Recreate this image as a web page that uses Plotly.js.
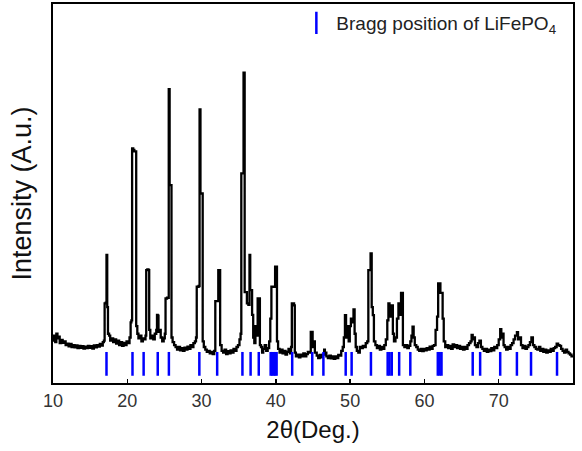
<!DOCTYPE html>
<html>
<head>
<meta charset="utf-8">
<script src="https://cdn.plot.ly/plotly-3.0.1.min.js"></script>
<style>html,body{margin:0;padding:0;background:#fff;}#chart{width:582px;height:451px;}</style>
</head>
<body>
<div id="chart"></div>
<script>
// 2-theta (degrees) and measured intensity (arbitrary units, 0-1000 full scale)
const twoTheta = [
10.0,10.15,10.3,10.45,10.6,10.75,10.9,11.1,11.3,11.5,11.7,11.9,12.1,12.3,12.5,12.7,12.9,13.1,13.3,13.5,13.7,13.9,14.1,14.3,14.5,14.7,14.9,15.1,15.3,15.5,15.7,15.9,16.1,16.3,16.5,16.7,16.85,16.95,17.1,17.2,17.3,17.4,17.55,17.7,17.9,
18.1,18.3,18.5,18.7,18.9,19.1,19.3,19.5,19.7,19.9,20.1,20.3,20.45,20.55,20.65,20.8,20.95,21.1,21.2,21.35,21.5,21.7,21.9,22.1,22.3,22.45,22.55,22.7,22.85,22.95,23.1,23.3,23.5,23.7,23.9,24.0,24.1,24.2,24.35,24.5,24.7,24.9,
25.05,25.15,25.35,25.5,25.58,25.7,25.85,25.95,26.1,26.3,26.5,26.7,26.9,27.1,27.3,27.5,27.7,27.9,28.1,28.3,28.5,28.7,28.9,29.1,29.25,29.35,29.6,29.73,29.85,30.05,30.15,30.3,30.5,30.7,30.9,31.1,31.3,31.5,31.7,31.85,32.1,32.25,32.4,32.5,32.7,32.9,
33.1,33.3,33.5,33.7,33.9,34.1,34.3,34.5,34.7,34.9,35.1,35.25,35.35,35.55,35.65,35.8,35.95,36.1,36.3,36.45,36.55,36.7,36.8,36.95,37.1,37.25,37.4,37.55,37.7,37.85,38.0,38.15,38.3,38.5,38.7,38.9,39.1,39.25,39.4,39.65,39.9,40.05,40.15,40.3,40.5,40.7,40.9,
41.1,41.3,41.5,41.7,41.9,42.05,42.15,42.35,42.45,42.55,42.7,42.9,43.1,43.3,43.5,43.7,43.9,44.1,44.3,44.55,44.7,44.85,44.95,45.1,45.25,45.5,45.7,45.9,46.1,46.3,46.5,46.6,46.8,47.0,47.2,47.4,47.6,47.8,48.0,48.2,48.4,48.6,48.8,49.0,49.15,49.3,49.45,49.6,49.8,49.95,
50.1,50.3,50.45,50.6,50.75,50.9,51.1,51.3,51.5,51.7,51.9,52.1,52.3,52.45,52.6,52.75,52.9,53.05,53.2,53.4,53.6,53.8,54.0,54.2,54.4,54.6,54.8,55.0,55.15,55.3,55.45,55.6,55.75,55.9,56.1,56.3,56.5,56.7,56.85,57.0,57.1,57.3,57.5,57.7,57.9,58.1,58.25,58.4,58.55,58.7,58.9,
59.1,59.3,59.5,59.7,59.9,60.1,60.3,60.5,60.7,60.9,61.1,61.3,61.5,61.7,61.85,62.0,62.15,62.3,62.45,62.6,62.8,63.0,63.2,63.4,63.6,63.8,64.0,64.2,64.4,64.6,64.8,65.0,65.2,65.4,65.6,65.8,66.0,66.2,66.35,66.5,66.65,66.8,67.0,67.2,67.4,67.6,67.8,68.0,68.2,68.4,68.6,68.8,
69.0,69.2,69.4,69.6,69.8,70.0,70.2,70.35,70.5,70.65,70.8,71.0,71.2,71.4,71.6,71.8,72.0,72.2,72.45,72.6,72.8,73.0,73.2,73.4,73.6,73.8,74.0,74.2,74.4,74.6,74.8,75.0,75.2,75.4,75.6,75.8,76.0,76.2,76.4,76.6,76.8,77.0,77.2,77.4,77.6,77.8,78.0,78.2,78.4,78.6,78.8,79.0,79.2,79.4,79.6,79.8,80.0
];
const intensity = [
112,125,108,130,118,122,105,114,106,110,100,104,97,103,95,100,94,99,92,98,93,97,91,96,92,98,93,97,91,99,94,100,96,103,99,108,112,210,212,338,200,130,125,112,118,
108,115,104,112,100,108,98,106,100,110,105,120,160,165,619,615,611,611,150,130,118,125,110,118,115,125,298,300,298,140,118,125,115,130,140,180,178,135,140,120,110,118,
130,223,225,225,775,522,522,120,108,100,95,88,95,86,92,85,93,88,96,90,100,95,105,110,120,254,256,722,500,500,110,95,88,82,85,78,82,76,85,216,216,298,298,100,85,80,
88,76,84,78,86,80,90,85,95,100,115,130,553,553,819,240,240,210,206,338,245,245,180,120,105,150,125,223,223,100,95,80,90,100,85,92,110,170,254,254,307,307,110,90,80,88,78,
85,75,82,90,78,95,210,210,205,80,70,75,68,75,70,78,70,76,82,80,135,135,95,110,80,72,66,74,68,75,88,80,70,66,72,65,70,64,70,66,74,72,85,95,120,179,120,150,110,150,
170,160,194,130,95,85,80,95,92,98,95,105,110,298,298,342,200,179,110,100,92,98,88,95,90,100,115,165,210,175,205,205,130,110,120,170,210,180,238,238,100,95,100,92,98,110,125,149,120,100,95,
88,85,90,84,90,86,92,88,96,90,98,100,140,175,263,263,238,238,170,110,95,100,92,98,90,102,95,100,92,98,90,95,88,95,90,100,105,110,127,115,120,100,95,105,112,95,90,85,90,82,88,84,
92,86,95,92,100,115,142,120,130,100,95,88,95,90,100,105,115,125,134,115,120,100,92,98,90,95,100,108,120,100,95,90,88,95,85,90,82,88,80,86,82,90,85,92,95,104,100,98,90,85,80,88,82,78,75,70,69
];
// Bragg reflection positions of LiFePO4 (degrees)
const braggPositions = [17.2,20.7,22.2,24.1,25.6,29.7,32.1,35.5,36.6,37.7,39.3,39.5,39.7,39.9,40.1,42.2,44.9,46.4,49.4,50.2,52.8,55.05,55.3,55.6,56.6,58.1,61.8,62.05,62.3,66.5,67.5,70.2,72.45,74.35,77.85];
const braggLevel = 50.5;
const xTickVals = [10,20,30,40,50,60,70,80];
const xTickText = ['10','20','30','40','50','60','70','80'];

const traces = [
  {
    type: 'scatter', mode: 'lines', x: twoTheta, y: intensity,
    line: {color: '#000000', width: 2.3, shape: 'hv'}, showlegend: false, hoverinfo: 'x+y'
  },
  {
    type: 'scatter', mode: 'markers', name: 'Bragg position of LiFePO<sub>4</sub>',
    x: braggPositions, y: braggPositions.map(() => braggLevel),
    marker: {symbol: 'line-ns', size: 17, color: '#0000ff', line: {color: '#0000ff', width: 2.5}}
  }
];

const layout = {
  width: 582, height: 451,
  margin: {l: 53, r: 9, t: 4, b: 68},
  paper_bgcolor: '#ffffff', plot_bgcolor: '#ffffff',
  font: {family: '"Liberation Sans", Arial, sans-serif', color: '#222222'},
  xaxis: {
    range: [10, 80], tickvals: xTickVals, ticktext: xTickText,
    ticks: 'inside', ticklen: 4, tickwidth: 1.5, tickcolor: '#000',
    showline: true, linecolor: '#000', linewidth: 2, mirror: true,
    showgrid: false, zeroline: false,
    tickfont: {size: 18, color: '#333333'},
    title: {text: '2θ(Deg.)', font: {size: 24, color: '#111111'}, standoff: 12}
  },
  yaxis: {
    range: [0, 1000], showticklabels: false, ticks: '',
    showline: true, linecolor: '#000', linewidth: 2, mirror: true,
    showgrid: false, zeroline: false,
    title: {text: 'Intensity (A.u.)', font: {size: 27, color: '#111111'}, standoff: 12}
  },
  legend: {
    x: 0.468, y: 1, xanchor: 'left', yanchor: 'top',
    bgcolor: 'rgba(0,0,0,0)', font: {size: 19, color: '#222222'}
  },
  showlegend: true
};

Plotly.newPlot('chart', traces, layout, {displayModeBar: false, staticPlot: true});
</script>
</body>
</html>
